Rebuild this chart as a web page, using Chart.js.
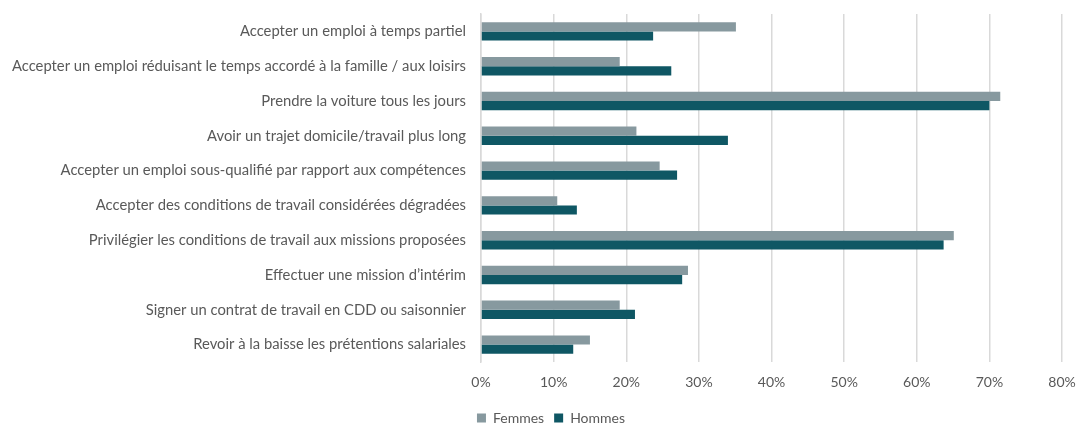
<!DOCTYPE html>
<html>
<head>
<meta charset="utf-8">
<script src="https://cdn.jsdelivr.net/npm/chart.js@4/dist/chart.umd.min.js"></script>
<style>
  html, body { margin: 0; padding: 0; background: #ffffff; }
  #wrap { width: 1077px; height: 426px; position: relative; }
</style>
</head>
<body>
<div id="wrap"><canvas id="chart"></canvas></div>
<script>
// categories, top to bottom
const categories = [
    'Accepter un emploi à temps partiel',
    'Accepter un emploi réduisant le temps accordé à la famille / aux loisirs',
    'Prendre la voiture tous les jours',
    'Avoir un trajet domicile/travail plus long',
    'Accepter un emploi sous-qualifié par rapport aux compétences',
    'Accepter des conditions de travail considérées dégradées',
    'Privilégier les conditions de travail aux missions proposées',
    'Effectuer une mission d\u2019intérim',
    'Signer un contrat de travail en CDD ou saisonnier',
    'Revoir à la baisse les prétentions salariales'
];

// percentages
const femmes = [35.1, 19.1, 71.5, 21.4, 24.6, 10.5, 65.1, 28.5, 19.1, 15.0];
const hommes = [23.7, 26.2, 70.0, 34.0, 27.0, 13.2, 63.7, 27.7, 21.2, 12.7];

const xTicks = [0, 10, 20, 30, 40, 50, 60, 70, 80];

const textColor = '#595959';
const gridColor = '#d9d9d9';
const fontFamily = 'Lato, "Open Sans", sans-serif';

// nudge the legend a bit to the right, like in the original
const legendShift = {
    id: 'legendShift',
    afterLayout(chart) {
        if (chart.legend) {
            chart.legend.left += 20;
            chart.legend.right += 20;
        }
    }
};

const ctx = document.getElementById('chart').getContext('2d');
const chart = new Chart(ctx, {
    type: 'bar',
    data: {
        labels: categories,
        datasets: [
            {
                label: 'Femmes',
                data: femmes,
                backgroundColor: '#87999f',
                categoryPercentage: 0.53,
                barPercentage: 1.0
            },
            {
                label: 'Hommes',
                data: hommes,
                backgroundColor: '#0f5764',
                categoryPercentage: 0.53,
                barPercentage: 1.0
            }
        ]
    },
    options: {
        indexAxis: 'y',
        responsive: true,
        maintainAspectRatio: false,
        animation: false,
        layout: {
            padding: { left: 0, right: 15, top: 14, bottom: -9 }
        },
        scales: {
            x: {
                min: 0,
                max: 80,
                afterBuildTicks: (scale) => {
                    scale.ticks = xTicks.map(v => ({ value: v }));
                },
                afterFit: (scale) => {
                    scale.height = 39;
                    scale.paddingLeft = 0;
                    scale.paddingRight = 0;
                },
                grid: {
                    color: gridColor,
                    lineWidth: 1.5,
                    drawTicks: false
                },
                border: { display: false },
                ticks: {
                    color: textColor,
                    padding: 12,
                    font: { family: fontFamily, size: 14 },
                    callback: (v) => v + '%'
                }
            },
            y: {
                grid: { display: false, drawTicks: false },
                border: { display: true, color: gridColor, width: 1.5 },
                afterFit: (scale) => {
                    scale.width = 481;
                    scale.paddingTop = 0;
                    scale.paddingBottom = 0;
                },
                ticks: {
                    color: textColor,
                    padding: 15,
                    font: { family: fontFamily, size: 14.8 }
                }
            }
        },
        plugins: {
            legend: {
                position: 'bottom',
                labels: {
                    color: textColor,
                    boxWidth: 9,
                    boxHeight: 9,
                    padding: 10,
                    font: { family: fontFamily, size: 14 }
                }
            },
            tooltip: { enabled: false }
        }
    },
    plugins: [legendShift]
});
</script>
</body>
</html>
